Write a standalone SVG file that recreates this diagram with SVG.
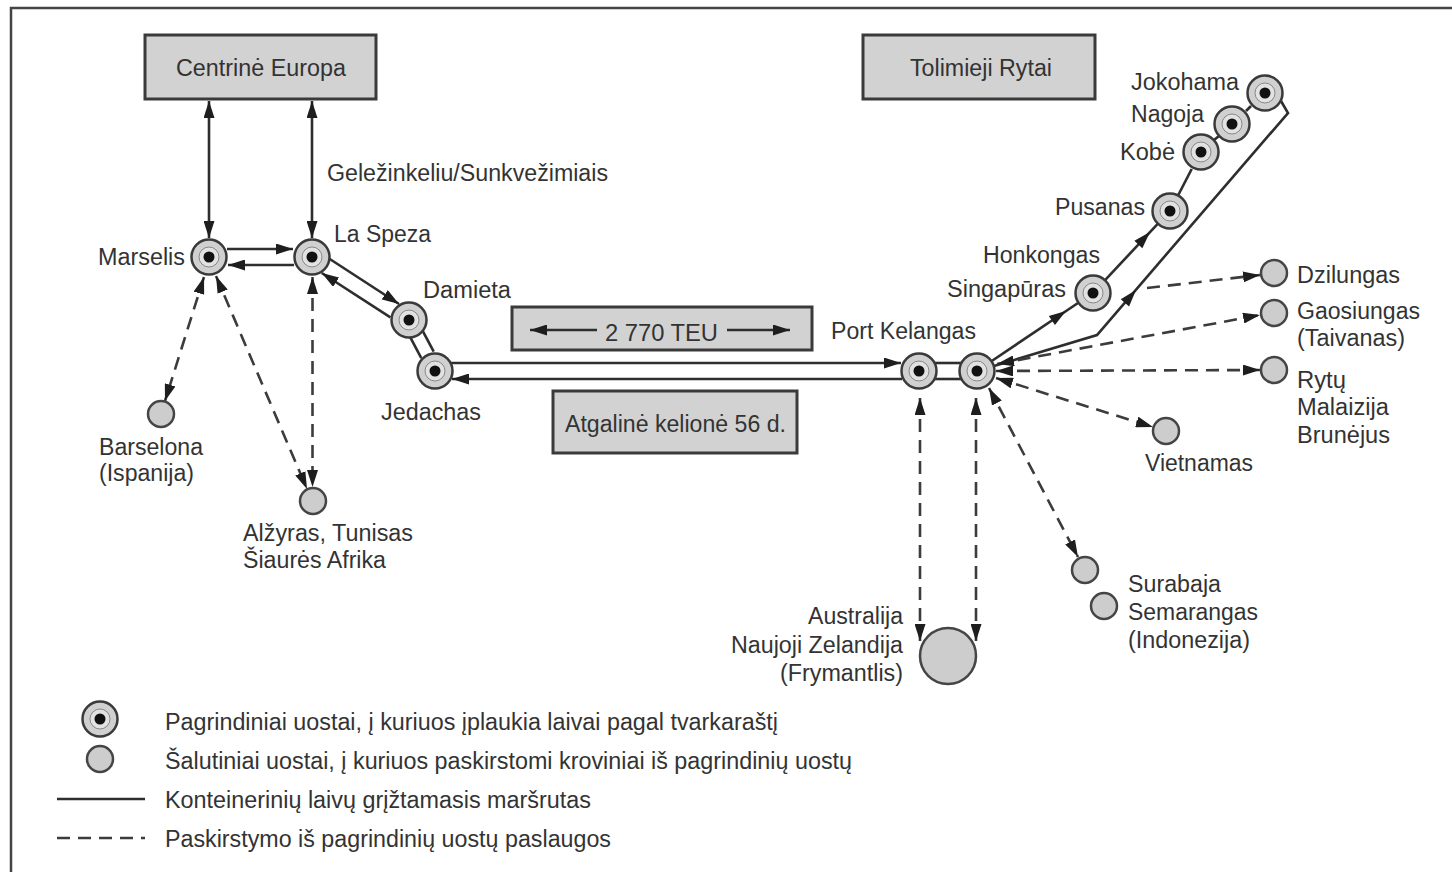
<svg xmlns="http://www.w3.org/2000/svg" xmlns:xlink="http://www.w3.org/1999/xlink" width="1452" height="872" viewBox="0 0 1452 872">
<style>
.t{font-family:"Liberation Sans",Arial,sans-serif;font-size:23.5px;fill:#333;}
.box{fill:#d2d2d2;stroke:#3a3a3a;stroke-width:3;}
.ln{stroke:#2e2e2e;stroke-width:2.6;fill:none;}
.ds{stroke:#3c3c3c;stroke-width:2.6;fill:none;stroke-dasharray:13 8;}
.mo{fill:#d0d0d0;stroke:#3a3a3a;stroke-width:2.5;}
.mi{fill:#e2e2e2;stroke:#888;stroke-width:1;}
.dot{fill:#111;}
.min{fill:#cdcdcd;stroke:#454545;stroke-width:2.5;}
.ah{fill:#1e1e1e;}
</style>
<defs>
<marker id="ah" viewBox="0 0 17 11" refX="17" refY="5.5" markerWidth="17" markerHeight="11" markerUnits="userSpaceOnUse" orient="auto-start-reverse"><path d="M0,0 L17,5.5 L0,11 z" fill="#1e1e1e"/></marker>
<g id="major"><circle r="17.5" class="mo"/><circle r="10" class="mi"/><circle r="5.5" class="dot"/></g>
<path id="tri" d="M0,0 L-17,-5.5 L-17,5.5 z" class="ah"/>
</defs>
<rect x="0" y="0" width="1452" height="872" fill="#fff"/>
<path d="M11,872 L11,8 L1452,8" fill="none" stroke="#444" stroke-width="2.5"/>

<g id="connectors">
<line class="ln" x1="209" y1="101" x2="209" y2="238" marker-start="url(#ah)" marker-end="url(#ah)"/>
<line class="ln" x1="312" y1="101" x2="312" y2="238" marker-start="url(#ah)" marker-end="url(#ah)"/>
<line class="ln" x1="227" y1="249" x2="293" y2="249" marker-end="url(#ah)"/>
<line class="ln" x1="294" y1="265" x2="228" y2="265" marker-end="url(#ah)"/>
<line class="ln" x1="329" y1="258.5" x2="399" y2="304" marker-end="url(#ah)"/>
<line class="ln" x1="390.4" y1="317.4" x2="321.8" y2="273" marker-end="url(#ah)"/>
<line class="ln" x1="422.7" y1="330.8" x2="433.7" y2="351.6"/>
<line class="ln" x1="410.3" y1="337.4" x2="421.3" y2="358.2"/>
<line class="ln" x1="451" y1="363" x2="901" y2="363" marker-end="url(#ah)"/>
<line class="ln" x1="902" y1="379" x2="452" y2="379" marker-end="url(#ah)"/>
<line class="ln" x1="935" y1="363" x2="961" y2="363"/>
<line class="ln" x1="935" y1="379" x2="961" y2="379"/>
<line class="ln" x1="991" y1="361.5" x2="1078" y2="303"/>
<use xlink:href="#tri" href="#tri" transform="translate(1066,311) rotate(-33.9)"/>
<line class="ln" x1="1105.3" y1="279.9" x2="1157.7" y2="223.9"/>
<use xlink:href="#tri" href="#tri" transform="translate(1150,232) rotate(-46.8)"/>
<line class="ln" x1="1178.3" y1="195" x2="1191.7" y2="169"/>
<line class="ln" x1="1214" y1="140" x2="1219" y2="136"/>
<line class="ln" x1="1246" y1="111" x2="1251" y2="106"/>
<path class="ln" d="M994,366 L1097,335 L1288,113 L1281,101"/>
<use xlink:href="#tri" href="#tri" transform="translate(1136,290) rotate(-49.3)"/>
<line class="ds" x1="204" y1="277" x2="165" y2="401" marker-start="url(#ah)" marker-end="url(#ah)"/>
<line class="ds" x1="216" y1="276" x2="307" y2="489" marker-start="url(#ah)" marker-end="url(#ah)"/>
<line class="ds" x1="312.5" y1="277" x2="312.5" y2="487" marker-start="url(#ah)" marker-end="url(#ah)"/>
<line class="ds" x1="1147" y1="288" x2="1260" y2="275" marker-end="url(#ah)"/>
<line class="ds" x1="997" y1="364" x2="1260" y2="315" marker-start="url(#ah)" marker-end="url(#ah)"/>
<line class="ds" x1="996" y1="371" x2="1260" y2="370" marker-start="url(#ah)" marker-end="url(#ah)"/>
<line class="ds" x1="996" y1="378" x2="1153" y2="427" marker-start="url(#ah)" marker-end="url(#ah)"/>
<line class="ds" x1="989" y1="388" x2="1078" y2="557" marker-start="url(#ah)" marker-end="url(#ah)"/>
<line class="ds" x1="920" y1="398" x2="920" y2="641" marker-start="url(#ah)" marker-end="url(#ah)"/>
<line class="ds" x1="976" y1="398" x2="976" y2="641" marker-start="url(#ah)" marker-end="url(#ah)"/>
</g>

<g id="centrine-europa"><rect class="box" x="145" y="35" width="231" height="64"/><text class="t" x="261" y="76" text-anchor="middle" textLength="170" lengthAdjust="spacingAndGlyphs">Centrinė Europa</text></g>
<g id="tolimieji-rytai"><rect class="box" x="863" y="35" width="232" height="64"/><text class="t" x="981" y="76" text-anchor="middle" textLength="142" lengthAdjust="spacingAndGlyphs">Tolimieji Rytai</text></g>
<g id="teu"><rect class="box" x="512" y="307" width="300" height="43"/><text class="t" x="605" y="341" textLength="113" lengthAdjust="spacingAndGlyphs">2 770 TEU</text>
<line class="ln" x1="597" y1="330" x2="530" y2="330" marker-end="url(#ah)"/><line class="ln" x1="727" y1="330" x2="790" y2="330" marker-end="url(#ah)"/></g>
<g id="atgaline"><rect class="box" x="553" y="391" width="244" height="62"/><text class="t" x="565" y="432" textLength="221" lengthAdjust="spacingAndGlyphs">Atgalinė kelionė 56 d.</text></g>
<g id="gelezinkeliu"><text class="t" x="327" y="181" textLength="281" lengthAdjust="spacingAndGlyphs">Geležinkeliu/Sunkvežimiais</text></g>

<g id="marselis"><use xlink:href="#major" href="#major" transform="translate(209,257)"/><text class="t" x="98" y="265" textLength="87" lengthAdjust="spacingAndGlyphs">Marselis</text></g>
<g id="la-speza"><use xlink:href="#major" href="#major" transform="translate(312,257)"/><text class="t" x="334" y="242" textLength="97" lengthAdjust="spacingAndGlyphs">La Speza</text></g>
<g id="damieta"><use xlink:href="#major" href="#major" transform="translate(409,320)"/><text class="t" x="423" y="298" textLength="88" lengthAdjust="spacingAndGlyphs">Damieta</text></g>
<g id="jedachas"><use xlink:href="#major" href="#major" transform="translate(435,371)"/><text class="t" x="381" y="420" textLength="100" lengthAdjust="spacingAndGlyphs">Jedachas</text></g>
<g id="barselona"><circle class="min" cx="161" cy="414" r="13"/><text class="t" x="99" y="455" textLength="104" lengthAdjust="spacingAndGlyphs">Barselona</text><text class="t" x="99" y="481" textLength="95" lengthAdjust="spacingAndGlyphs">(Ispanija)</text></g>
<g id="alzyras"><circle class="min" cx="313" cy="501" r="13"/><text class="t" x="243" y="541" textLength="170" lengthAdjust="spacingAndGlyphs">Alžyras, Tunisas</text><text class="t" x="243" y="568" textLength="143" lengthAdjust="spacingAndGlyphs">Šiaurės Afrika</text></g>
<g id="port-kelangas"><use xlink:href="#major" href="#major" transform="translate(919,371)"/><use xlink:href="#major" href="#major" transform="translate(977,371)"/><text class="t" x="831" y="339" textLength="145" lengthAdjust="spacingAndGlyphs">Port Kelangas</text></g>
<g id="singapuras"><use xlink:href="#major" href="#major" transform="translate(1093,293)"/><text class="t" x="983" y="263" textLength="117" lengthAdjust="spacingAndGlyphs">Honkongas</text><text class="t" x="947" y="297" textLength="119" lengthAdjust="spacingAndGlyphs">Singapūras</text></g>
<g id="pusanas"><use xlink:href="#major" href="#major" transform="translate(1170,211)"/><text class="t" x="1055" y="215" textLength="90" lengthAdjust="spacingAndGlyphs">Pusanas</text></g>
<g id="kobe"><use xlink:href="#major" href="#major" transform="translate(1201,152)"/><text class="t" x="1120" y="160" textLength="55" lengthAdjust="spacingAndGlyphs">Kobė</text></g>
<g id="nagoja"><use xlink:href="#major" href="#major" transform="translate(1232,124)"/><text class="t" x="1131" y="122" textLength="73" lengthAdjust="spacingAndGlyphs">Nagoja</text></g>
<g id="jokohama"><use xlink:href="#major" href="#major" transform="translate(1265,93)"/><text class="t" x="1131" y="90" textLength="108" lengthAdjust="spacingAndGlyphs">Jokohama</text></g>
<g id="dzilungas"><circle class="min" cx="1274" cy="273" r="13"/><text class="t" x="1297" y="283" textLength="103" lengthAdjust="spacingAndGlyphs">Dzilungas</text></g>
<g id="gaosiungas"><circle class="min" cx="1274" cy="313" r="13"/><text class="t" x="1297" y="319" textLength="123" lengthAdjust="spacingAndGlyphs">Gaosiungas</text><text class="t" x="1297" y="346" textLength="108" lengthAdjust="spacingAndGlyphs">(Taivanas)</text></g>
<g id="rytu-malaizija"><circle class="min" cx="1274" cy="370" r="13"/><text class="t" x="1297" y="388" textLength="49" lengthAdjust="spacingAndGlyphs">Rytų</text><text class="t" x="1297" y="415" textLength="92" lengthAdjust="spacingAndGlyphs">Malaizija</text><text class="t" x="1297" y="443" textLength="93" lengthAdjust="spacingAndGlyphs">Brunėjus</text></g>
<g id="vietnamas"><circle class="min" cx="1166" cy="431" r="13"/><text class="t" x="1145" y="471" textLength="108" lengthAdjust="spacingAndGlyphs">Vietnamas</text></g>
<g id="surabaja"><circle class="min" cx="1085" cy="570" r="13"/><circle class="min" cx="1104" cy="606" r="13"/><text class="t" x="1128" y="592" textLength="93" lengthAdjust="spacingAndGlyphs">Surabaja</text><text class="t" x="1128" y="620" textLength="130" lengthAdjust="spacingAndGlyphs">Semarangas</text><text class="t" x="1128" y="648" textLength="122" lengthAdjust="spacingAndGlyphs">(Indonezija)</text></g>
<g id="australija"><circle class="min" cx="948" cy="656" r="28"/><text class="t" x="903" y="624" text-anchor="end" textLength="95" lengthAdjust="spacingAndGlyphs">Australija</text><text class="t" x="903" y="653" text-anchor="end" textLength="172" lengthAdjust="spacingAndGlyphs">Naujoji Zelandija</text><text class="t" x="903" y="681" text-anchor="end" textLength="123" lengthAdjust="spacingAndGlyphs">(Frymantlis)</text></g>

<g id="legend">
<use xlink:href="#major" href="#major" transform="translate(100,719)"/>
<circle class="min" cx="100" cy="759" r="13"/>
<line class="ln" x1="57" y1="799" x2="145" y2="799"/>
<line class="ds" x1="57" y1="838" x2="145" y2="838" stroke-dasharray="15 9"/>
<text class="t" x="165" y="730" textLength="613" lengthAdjust="spacingAndGlyphs">Pagrindiniai uostai, į kuriuos įplaukia laivai pagal tvarkaraštį</text>
<text class="t" x="165" y="769" textLength="687" lengthAdjust="spacingAndGlyphs">Šalutiniai uostai, į kuriuos paskirstomi kroviniai iš pagrindinių uostų</text>
<text class="t" x="165" y="808" textLength="426" lengthAdjust="spacingAndGlyphs">Konteinerinių laivų grįžtamasis maršrutas</text>
<text class="t" x="165" y="847" textLength="446" lengthAdjust="spacingAndGlyphs">Paskirstymo iš pagrindinių uostų paslaugos</text>
</g>
</svg>
